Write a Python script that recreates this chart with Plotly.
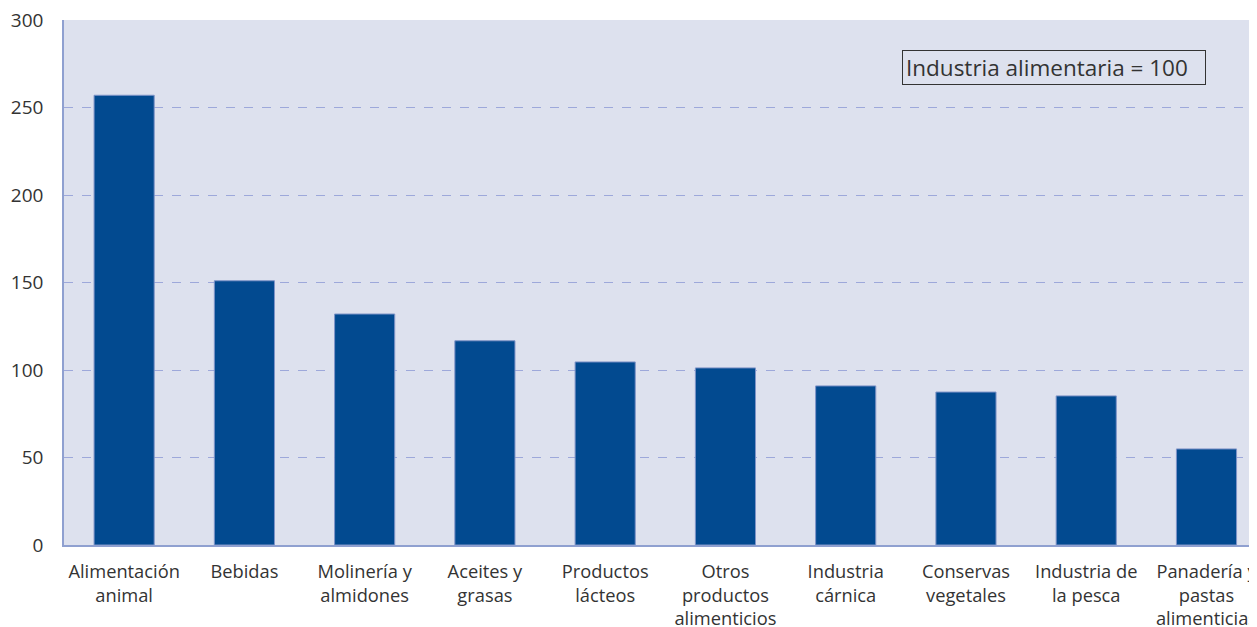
import plotly.graph_objects as go

categories = ["Alimentación<br>animal", "Bebidas", "Molinería y<br>almidones", "Aceites y<br>grasas",
              "Productos<br>lácteos", "Otros<br>productos<br>alimenticios", "Industria<br>cárnica",
              "Conservas<br>vegetales", "Industria de<br>la pesca", "Panadería y<br>pastas<br>alimenticias"]
values = [257, 151, 132, 116.7, 104.6, 101.2, 90.9, 87.4, 85.2, 54.9]
y_ticks = [0, 50, 100, 150, 200, 250, 300]

FONT = "Open Sans"
fig = go.Figure()
fig.add_trace(go.Bar(
    x=list(range(len(categories))), y=values, width=0.5,
    marker=dict(color="#024A90", line=dict(color="#7F94C8", width=1)),
))
fig.update_layout(
    width=1249, height=619,
    margin=dict(l=56, r=0, t=12, b=82, autoexpand=False),
    paper_bgcolor="white", plot_bgcolor="#DDE1EE",
    showlegend=False,
    font=dict(family=FONT, size=19, color="#333333"),
    xaxis=dict(
        range=[-0.5, 9.42], tickmode="array", tickvals=list(range(len(categories))),
        ticktext=categories, showgrid=False, showline=True, linecolor="#8FA0D0", linewidth=1.5,
        ticks="", ticklen=0, zeroline=False, tickfont=dict(size=18.3, color="#333333"),
        ticklabelstandoff=9, ticklabeloverflow="allow", automargin=False,
    ),
    yaxis=dict(
        range=[0, 300], tickvals=y_ticks, showgrid=True, gridcolor="#9DA8DA",
        griddash="dash", gridwidth=1, showline=True, linecolor="#8FA0D0", linewidth=1.5,
        zeroline=False, ticks="", tickfont=dict(size=19, color="#333333"),
        ticklabelstandoff=15, ticklabeloverflow="allow", automargin=False,
    ),
    annotations=[dict(
        x=0.7024, y=0.9086, xref="paper", yref="paper", xanchor="left", yanchor="middle",
        text="Industria alimentaria = 100", showarrow=False,
        font=dict(family=FONT, size=22.5, color="#333333"),
        bordercolor="#333333", borderwidth=1, borderpad=3, bgcolor="#DDE1EE",
        width=296, height=27, align="left",
    )],
)
fig.write_html("out.html")
